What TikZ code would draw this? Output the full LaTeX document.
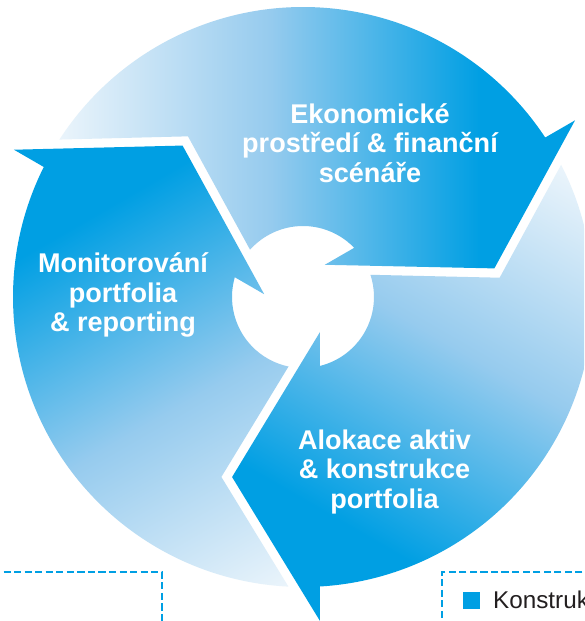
\documentclass[tikz,border=0pt]{standalone}
\usepackage{fontspec}
\setsansfont{Liberation Sans}
\usetikzlibrary{positioning}
\definecolor{cycdark}{RGB}{0,159,227}
\definecolor{cycmid}{RGB}{150,203,238}
\definecolor{cycpale}{RGB}{234,244,251}
\definecolor{legtext}{RGB}{35,31,32}

% pale -> dark, the ramp sits in the middle quarter of the shading
\pgfdeclarehorizontalshading{cycgrad}{100bp}{color(0bp)=(cycpale); color(37.5bp)=(cycpale);
  color(50bp)=(cycmid); color(62.5bp)=(cycdark); color(100bp)=(cycdark)}

% one arrow of the cycle, #1 = turn
\newcommand{\cycseg}[1]{%
  \pgfmathsetmacro{\shadeang}{120+#1}
  \begin{scope}
    \clip ({-92.88+#1}:5.8)
      arc[start angle={-92.88+#1}, end angle={-206.64+#1}, radius=5.8]
      -- ({-207+#1}:6.488) -- ({-231.5+#1}:3.87) -- ({-184.1+#1}:0.778)
      -- ({-196.16+#1}:1.42)
      arc[start angle={-196.16+#1}, end angle={-101.77+#1}, radius=1.42]
      -- ({-114.4+#1}:3.952) -- cycle;
    \shade[shading=cycgrad, shading angle=\shadeang] ({-60+#1}:0.66) circle (8.4);
  \end{scope}}

\begin{document}
\begin{tikzpicture}[
  every node/.style={font=\sffamily},
  lbl/.style={text=white, align=center, inner sep=0pt,
              font=\sffamily\bfseries\fontsize{15.4}{16.8}\selectfont},
  dashline/.style={cycdark, line width=0.9pt, dash pattern=on 4.1pt off 1.9pt}
]
\path[use as bounding box, clip] (-6.06,-6.48) rectangle (5.62,5.94);
\fill[white] (-6.06,-6.48) rectangle (5.62,5.94);

% Arrows
\cycseg{-120}
\cycseg{-240}
\cycseg{0}

% Labels
\node[lbl] (econ) at (1.34,3.08) {Ekonomické\\prostředí \& finanční\\scénáře};
\node[lbl] (alloc) at (1.63,-3.5) {Alokace aktiv\\\& konstrukce\\portfolia};
\node[lbl] (monit) at (-3.6,0.04) {Monitorování\\portfolia\\\& reporting};

% Boxes below
\draw[dashline] (-6.2,-5.5) -- (-2.82,-5.5) -- (-2.82,-6.7);
\draw[dashline] (5.8,-5.5) -- (2.78,-5.5) -- (2.78,-6.7);

\node[fill=cycdark, minimum size=0.34cm, inner sep=0pt] (legsq) at (3.36,-6.06) {};
\node[right=0.26cm of legsq, inner sep=0pt, text=legtext,
      font=\sffamily\fontsize{13.8}{16}\selectfont] (legtxt) {Konstruk};

\end{tikzpicture}
\end{document}
